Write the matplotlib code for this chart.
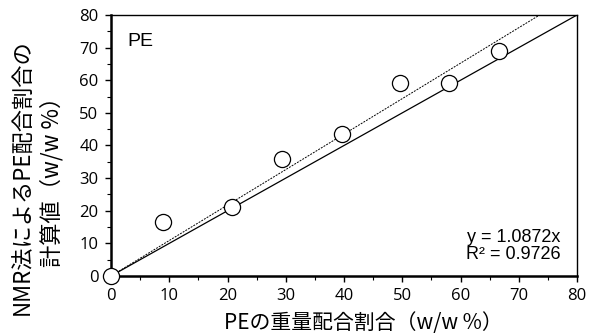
import matplotlib
matplotlib.use("Agg")
import matplotlib.pyplot as plt
import numpy as np

plt.rcParams['font.family'] = ['Noto Sans CJK JP', 'DejaVu Sans']

# 重量配合割合 vs NMR法による計算値
x_weight = [0, 9.0, 20.8, 29.4, 39.6, 49.6, 58.0, 66.6]
y_nmr = [0, 16.5, 21.2, 36.0, 43.6, 59.1, 59.3, 69.1]
slope = 1.0872
r2 = 0.9726
line_x = [0, 80]

fig = plt.figure(figsize=(5.92, 3.35), dpi=100)
ax = fig.add_axes([111 / 592, 1 - 276 / 335, 466 / 592, 261 / 335])

ax.plot(line_x, line_x, color="black", lw=0.9, zorder=2)
ax.plot(line_x, [slope * v for v in line_x], color="black", lw=0.7,
        linestyle=(0, (2, 1.2)), zorder=2)
ax.scatter(x_weight, y_nmr, s=135, facecolors="white", edgecolors="black",
           linewidths=0.9, zorder=3, clip_on=False)

ax.set_xlim(0, 80)
ax.set_ylim(0, 80)
ax.set_xticks(np.arange(0, 81, 10))
ax.set_yticks(np.arange(0, 81, 10))
ax.set_xticks(np.arange(5, 80, 10), minor=True)
ax.set_yticks(np.arange(5, 80, 10), minor=True)
ax.tick_params(which="major", direction="out", length=4, width=1.0,
               labelsize=12, pad=5, labelfontfamily="Open Sans")
ax.tick_params(which="minor", direction="out", length=3, width=0.8)
for side in ["bottom", "left"]:
    ax.spines[side].set_linewidth(1.8)
for side in ["top", "right"]:
    ax.spines[side].set_linewidth(1.0)

ax.text(0.035, 0.93, "PE", transform=ax.transAxes, fontsize=14,
        family=["Liberation Sans"], va="top", ha="left")
ax.text(0.965, 0.05, "y = 1.0872x\nR² = 0.9726", transform=ax.transAxes,
        fontsize=13, family=["Liberation Sans"], va="bottom", ha="right",
        linespacing=1.0)

ax.set_xlabel("PEの重量配合割合（w/w %）", fontsize=15)
ax.xaxis.set_label_coords(0.541, -0.18)
ax.xaxis.label.set_verticalalignment("center")
ax.set_ylabel("NMR法によるPE配合割合の\n計算値（w/w %）", fontsize=16,
              linespacing=1.3)
ax.yaxis.set_label_coords(-0.157, 0.38)
ax.yaxis.label.set_verticalalignment("center")

fig.savefig("out.png", dpi=100)
